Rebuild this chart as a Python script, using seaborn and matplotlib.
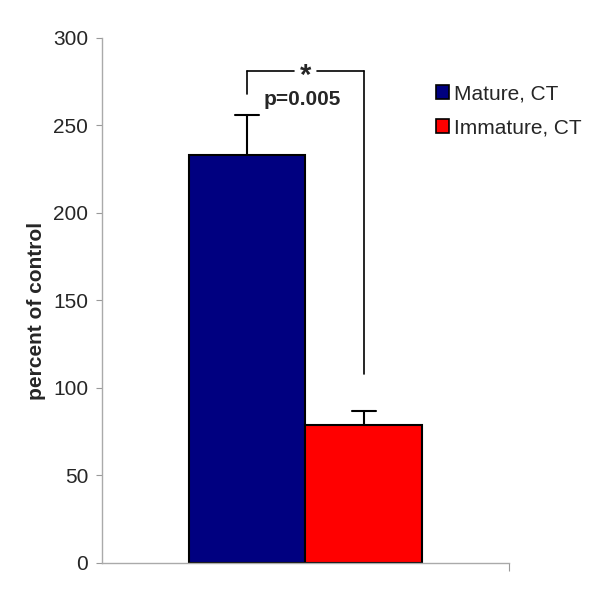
import pandas as pd
import seaborn as sns
import matplotlib.pyplot as plt
from matplotlib.patches import Patch

# values
groups = ['Mature, CT', 'Immature, CT']
means = [233, 79]
errs = [23, 8]
colors = ['#000080', '#FF0000']
p_text = 'p=0.005'

df = pd.DataFrame({'cat': ['all', 'all'], 'group': groups, 'value': means})

sns.set_style('white')
plt.rcParams['font.family'] = ['Liberation Sans', 'DejaVu Sans']

fig = plt.figure(figsize=(6, 6), dpi=100)
ax = fig.add_axes([0.17, 0.062, 0.678, 0.875])

sns.barplot(data=df, x='cat', y='value', hue='group', palette=colors,
            saturation=1, edgecolor='black', linewidth=1.5, width=0.8,
            legend=False, ax=ax)

# upper-only error bars
bars = ax.patches[:len(groups)]
for b, e in zip(bars, errs):
    xc = b.get_x() + b.get_width() / 2
    top = b.get_height()
    ax.plot([xc, xc], [top, top + e], color='black', lw=1.5, zorder=3)
    ax.plot([xc - 0.04, xc + 0.04], [top + e, top + e], color='black', lw=1.5, zorder=3)

# significance bracket
x1 = bars[0].get_x() + bars[0].get_width() / 2
x2 = bars[1].get_x() + bars[1].get_width() / 2
xm = (x1 + x2) / 2
ytop = 281
ax.plot([x1, x1], [268, ytop], color='black', lw=1.2)
ax.plot([x2, x2], [108, ytop], color='black', lw=1.2)
ax.plot([x1, xm - 0.04], [ytop, ytop], color='black', lw=1.2)
ax.plot([xm + 0.04, x2], [ytop, ytop], color='black', lw=1.2)
ax.text(xm, ytop - 3, '*', ha='center', va='center',
        fontsize=21, fontweight='bold')
ax.text(xm - 0.01, 265, p_text, ha='center', va='center',
        fontsize=15, fontweight='bold')

ax.set_xlim(-0.696, 0.696)
ax.set_ylim(0, 300)
ax.set_yticks(range(0, 301, 50))
ax.set_xticks([0.696])
ax.set_xticklabels([''])
ax.set_xlabel('')
ax.set_ylabel('percent of control', fontsize=15, fontweight='bold')
ax.yaxis.set_label_coords(-0.138, 0.48)
ax.tick_params(axis='y', labelsize=15, length=4, color='#999999', direction='out',
               left=True, pad=6)
ax.tick_params(axis='x', length=6, color='#999999', direction='out', bottom=True)
for s in ['top', 'right']:
    ax.spines[s].set_visible(False)
for s in ['left', 'bottom']:
    ax.spines[s].set_color('#aaaaaa')
    ax.spines[s].set_linewidth(1)

handles = [Patch(facecolor=c, edgecolor='black', linewidth=1.2) for c in colors]
fig.legend(handles, groups, loc='upper left', bbox_to_anchor=(0.695, 0.89),
           frameon=False, fontsize=15, handlelength=0.65, handleheight=0.65,
           handletextpad=0.25, labelspacing=0.7)

fig.savefig('out.png', dpi=100)
